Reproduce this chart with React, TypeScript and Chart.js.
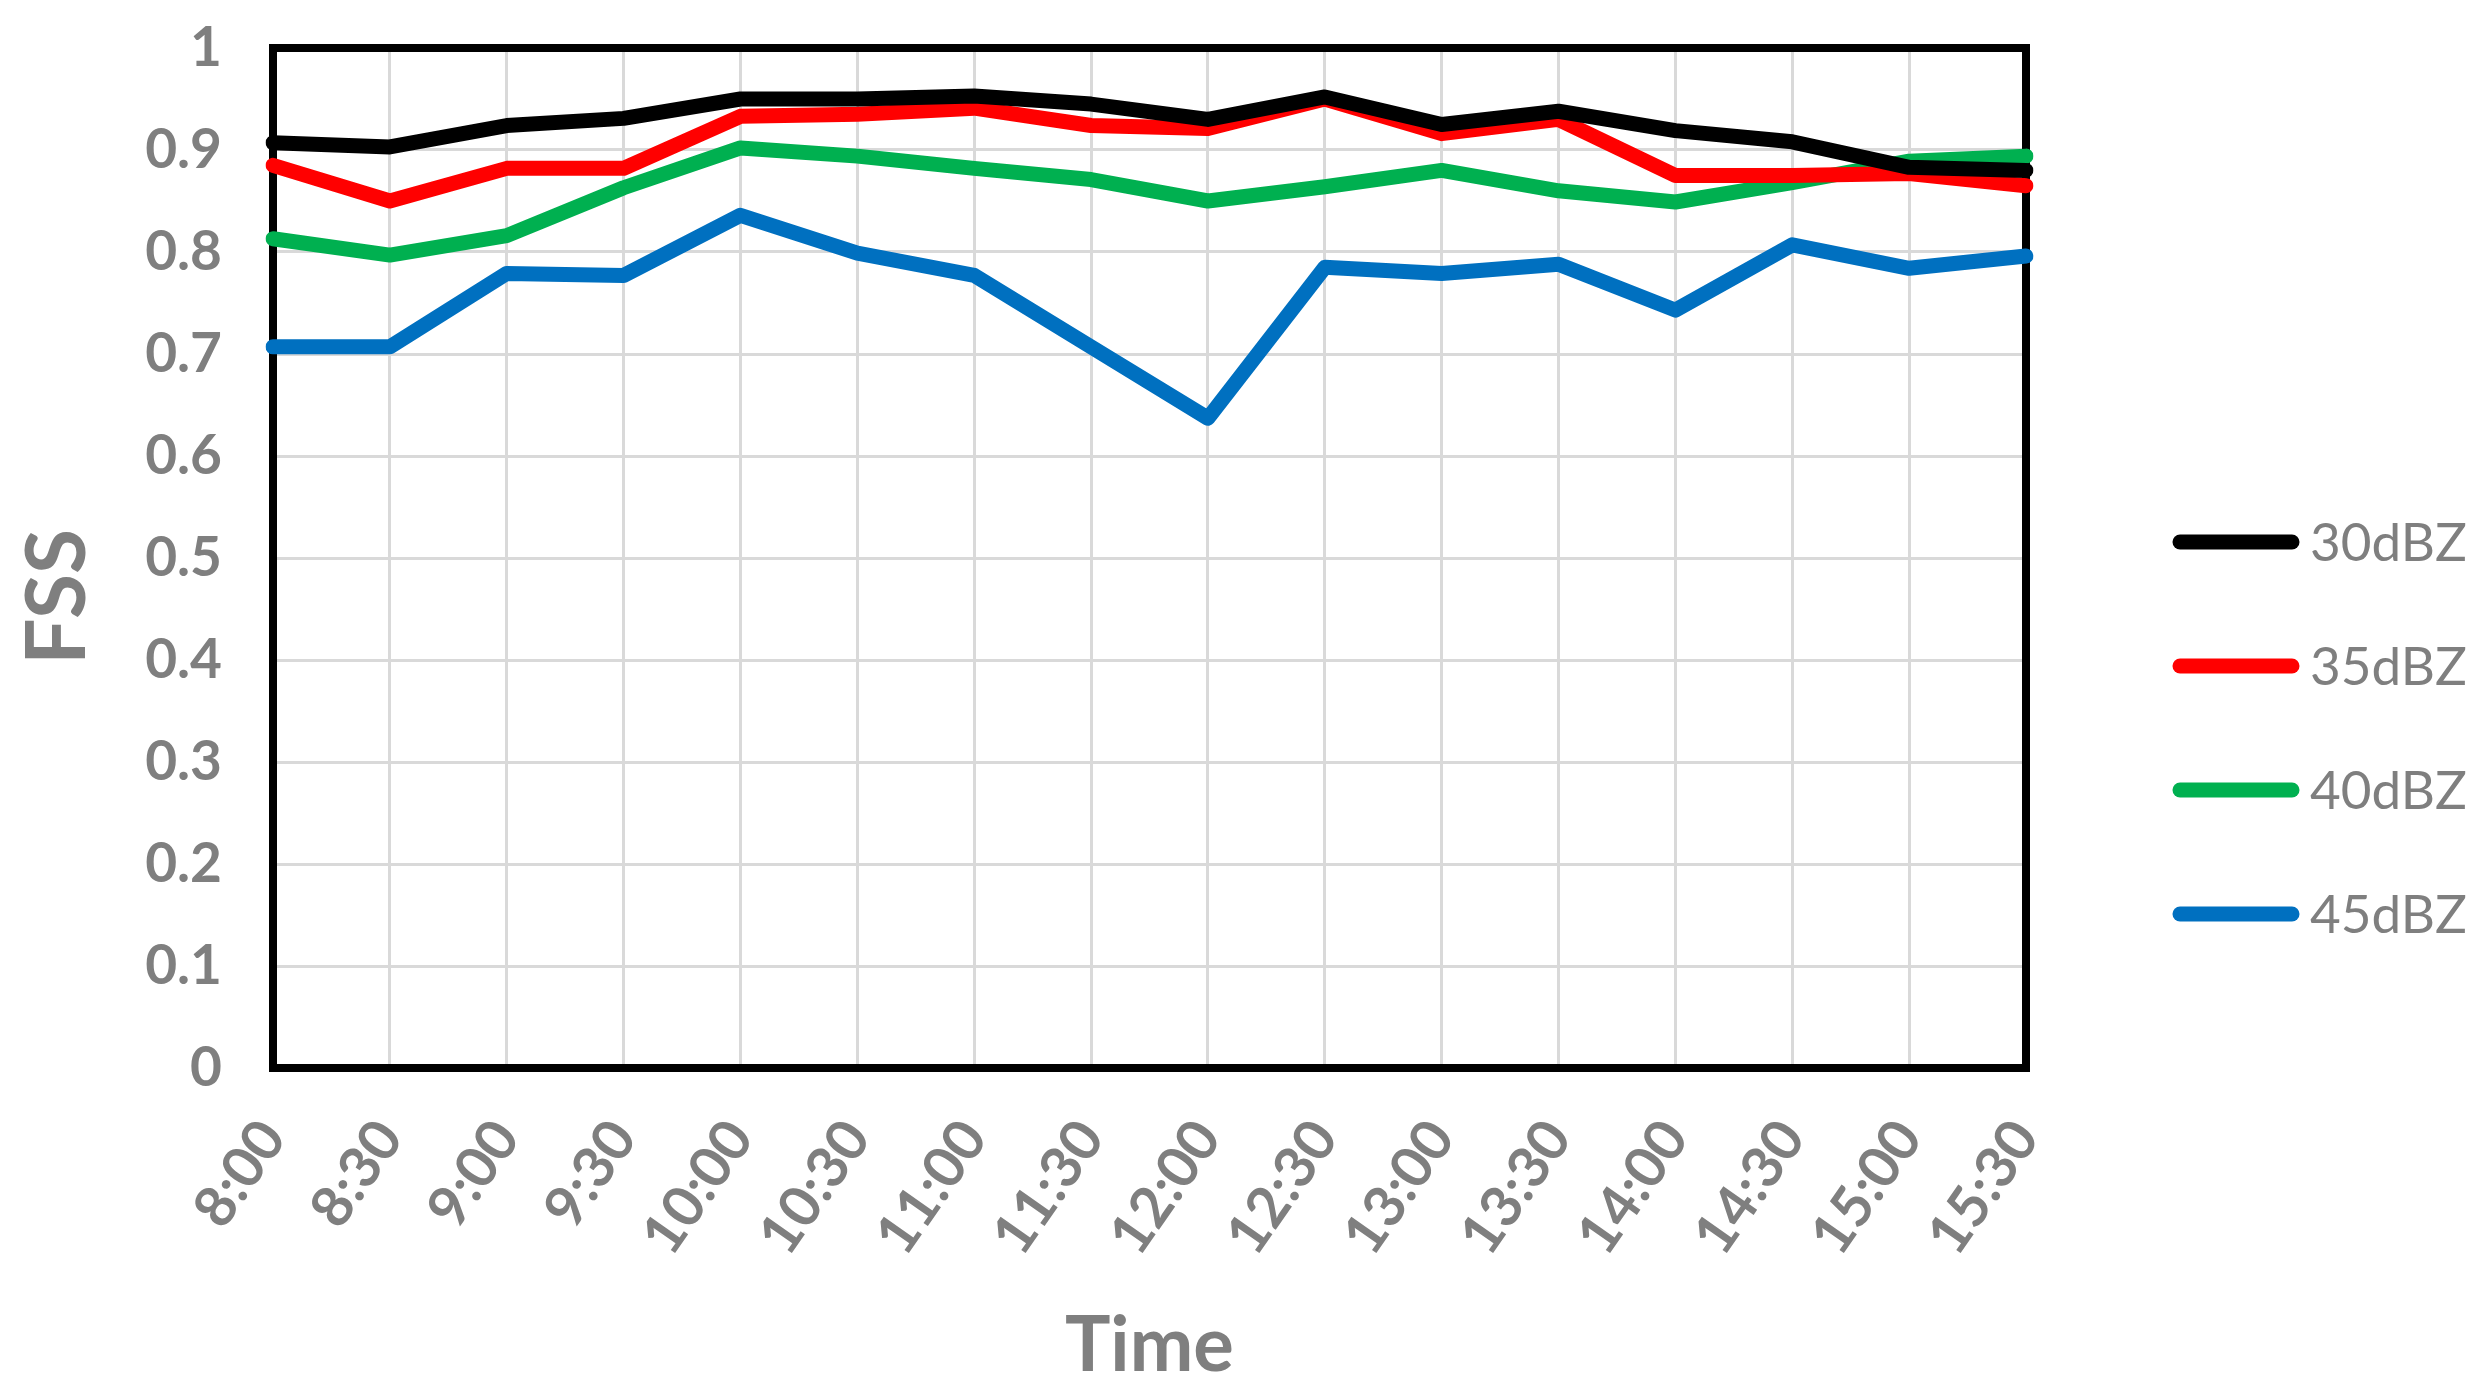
import React, { useEffect, useRef } from "react";
import { Chart, registerables } from "chart.js";

Chart.register(...registerables);

const categories = ["8:00", "8:30", "9:00", "9:30", "10:00", "10:30", "11:00", "11:30", "12:00", "12:30", "13:00", "13:30", "14:00", "14:30", "15:00", "15:30"];

const fss30 = [0.907, 0.903, 0.924, 0.931, 0.95, 0.95, 0.953, 0.945, 0.93, 0.952, 0.925, 0.938, 0.919, 0.908, 0.883, 0.88];
const fss35 = [0.885, 0.85, 0.882, 0.882, 0.933, 0.935, 0.941, 0.924, 0.921, 0.95, 0.916, 0.93, 0.875, 0.875, 0.877, 0.865];
const fss40 = [0.813, 0.797, 0.816, 0.863, 0.902, 0.894, 0.882, 0.871, 0.85, 0.864, 0.88, 0.86, 0.849, 0.868, 0.889, 0.894];
const fss45 = [0.707, 0.707, 0.779, 0.777, 0.836, 0.799, 0.777, 0.707, 0.637, 0.785, 0.779, 0.788, 0.743, 0.807, 0.784, 0.796];

const seriesLabels = ["30dBZ", "35dBZ", "40dBZ", "45dBZ"];
const seriesColors = ["#000000", "#ff0000", "#00b050", "#0070c0"];

const yTitle = "FSS";
const xTitle = "Time";

const GRAY = "#7f7f7f";
const FONT = "Lato, 'Open Sans', sans-serif";

const framePlugin = {
  id: "frame",
  beforeDatasetsDraw(chart: any) {
    const { ctx, chartArea } = chart;
    ctx.save();
    ctx.strokeStyle = "#000";
    ctx.lineWidth = 8;
    ctx.strokeRect(chartArea.left, chartArea.top, chartArea.right - chartArea.left, chartArea.bottom - chartArea.top);
    ctx.restore();
  },
};

const yTitlePlugin = {
  id: "yTitle",
  afterDraw(chart: any) {
    const { ctx } = chart;
    ctx.save();
    ctx.translate(59, 597);
    ctx.rotate(-Math.PI / 2);
    ctx.fillStyle = GRAY;
    ctx.font = `bold 82px ${FONT}`;
    ctx.textAlign = "center";
    ctx.textBaseline = "middle";
    ctx.fillText(yTitle, 0, 0);
    ctx.restore();
  },
};

const legendPlugin = {
  id: "sideLegend",
  afterDraw(chart: any) {
    const { ctx } = chart;
    const x0 = 2180;
    const x1 = 2292;
    const top = 542;
    const gap = 124;
    chart.data.datasets.forEach((ds: any, i: number) => {
      const y = top + i * gap;
      ctx.save();
      ctx.strokeStyle = ds.borderColor;
      ctx.lineWidth = 15;
      ctx.lineCap = "round";
      ctx.beginPath();
      ctx.moveTo(x0, y);
      ctx.lineTo(x1, y);
      ctx.stroke();
      ctx.fillStyle = GRAY;
      ctx.font = `53px ${FONT}`;
      ctx.textBaseline = "middle";
      ctx.textAlign = "left";
      ctx.fillText(ds.label, 2310, y + 2);
      ctx.restore();
    });
  },
};

export default function App() {
  const ref = useRef<HTMLCanvasElement | null>(null);

  useEffect(() => {
    if (!ref.current) return;
    const series = [fss30, fss35, fss40, fss45];
    const chart = new Chart(ref.current, {
      type: "line",
      data: {
        labels: categories,
        datasets: series.map((d, i) => ({
          label: seriesLabels[i],
          data: d,
          borderColor: seriesColors[i],
          backgroundColor: seriesColors[i],
          borderWidth: 15,
          pointRadius: 0,
          tension: 0,
          borderCapStyle: "round",
          borderJoinStyle: "round",
        })),
      },
      options: {
        responsive: false,
        animation: false,
        layout: { padding: { left: 0, right: 465, top: 48, bottom: 0 } },
        plugins: {
          legend: { display: false },
          tooltip: { enabled: false },
        },
        scales: {
          x: {
            offset: false,
            grid: { color: "#d9d9d9", lineWidth: 3, drawTicks: false },
            border: { display: false },
            ticks: {
              autoSkip: false,
              minRotation: 55,
              maxRotation: 55,
              padding: 40,
              color: GRAY,
              font: { family: FONT, size: 57, weight: "bold" },
            },
            title: {
              display: true,
              text: xTitle,
              color: GRAY,
              font: { family: FONT, size: 76, weight: "bold" },
              padding: { top: 0, bottom: 8 },
            },
            afterFit(scale: any) {
              scale.height = 332;
              scale.paddingTop = 0;
            },
          },
          y: {
            min: 0,
            max: 1,
            grid: { color: "#d9d9d9", lineWidth: 3, drawTicks: false },
            border: { display: false },
            ticks: {
              stepSize: 0.1,
              padding: 51,
              color: GRAY,
              font: { family: FONT, size: 55, weight: "bold" },
              callback: (v: any) => String(Number(Number(v).toFixed(1))),
            },
            title: { display: false },
            afterFit(scale: any) {
              scale.width = 273;
              scale.paddingTop = 0;
              scale.paddingBottom = 0;
            },
          },
        },
      },
      plugins: [framePlugin, yTitlePlugin, legendPlugin],
    });
    return () => chart.destroy();
  }, []);

  return (
    <div style={{ position: "absolute", left: 0, top: 0, width: 2491, height: 1400, background: "#fff" }}>
      <canvas ref={ref} width={2491} height={1400} style={{ width: 2491, height: 1400 }} />
    </div>
  );
}
